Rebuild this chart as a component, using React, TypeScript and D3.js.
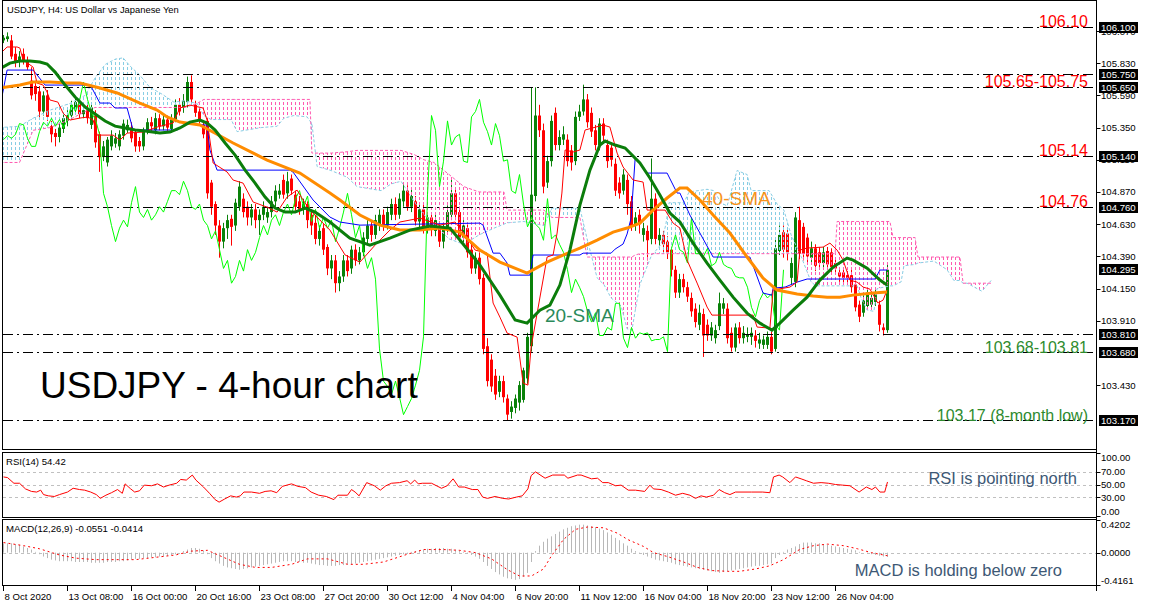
import * as d3 from "d3";

// one label every 16 four-hour bars
const timeLabels = [
  "8 Oct 2020", "13 Oct 08:00", "16 Oct 00:00", "20 Oct 16:00", "23 Oct 08:00",
  "27 Oct 20:00", "30 Oct 12:00", "4 Nov 04:00", "6 Nov 20:00", "11 Nov 12:00",
  "16 Nov 04:00", "18 Nov 20:00", "23 Nov 12:00", "26 Nov 04:00",
];

// [open, high, low, close]
const candles: [number, number, number, number][] = [
  [106.00,106.04,105.98,106.02],[106.01,106.06,105.99,106.03],[106.00,106.04,105.86,105.88],[105.90,105.95,105.80,105.84],
  [105.84,105.92,105.80,105.88],[105.90,105.94,105.82,105.85],[105.85,105.88,105.78,105.80],[105.70,105.80,105.56,105.59],
  [105.66,105.70,105.55,105.60],[105.62,105.66,105.42,105.47],[105.47,105.62,105.44,105.59],[105.59,105.63,105.40,105.43],
  [105.36,105.40,105.24,105.30],[105.31,105.34,105.21,105.28],[105.28,105.38,105.24,105.35],[105.34,105.46,105.31,105.42],
  [105.40,105.48,105.36,105.44],[105.44,105.55,105.41,105.52],[105.49,105.58,105.46,105.54],[105.54,105.57,105.42,105.45],
  [105.45,105.52,105.42,105.48],[105.48,105.52,105.38,105.42],[105.37,105.54,105.34,105.50],[105.44,105.48,105.20,105.24],
  [105.30,105.32,105.02,105.13],[105.13,105.25,105.10,105.21],[105.09,105.28,105.06,105.26],[105.21,105.33,105.18,105.29],
  [105.23,105.31,105.20,105.27],[105.21,105.33,105.18,105.30],[105.29,105.41,105.26,105.38],[105.33,105.41,105.31,105.37],
  [105.35,105.39,105.24,105.27],[105.31,105.33,105.17,105.21],[105.25,105.28,105.17,105.21],[105.21,105.35,105.18,105.32],
  [105.33,105.42,105.30,105.39],[105.39,105.43,105.32,105.36],[105.33,105.46,105.30,105.42],[105.42,105.45,105.33,105.36],
  [105.36,105.45,105.33,105.41],[105.41,105.44,105.31,105.35],[105.34,105.45,105.31,105.41],[105.41,105.56,105.39,105.52],
  [105.52,105.57,105.44,105.47],[105.50,105.60,105.46,105.55],[105.54,105.73,105.50,105.69],[105.69,105.74,105.53,105.56],
  [105.52,105.55,105.43,105.46],[105.47,105.50,105.38,105.41],[105.37,105.40,105.27,105.30],[105.40,105.42,104.82,104.86],
  [104.94,104.96,104.70,104.76],[104.78,104.80,104.55,104.62],[104.62,104.66,104.38,104.50],[104.50,104.64,104.45,104.60],
  [104.60,104.70,104.52,104.66],[104.67,104.70,104.47,104.61],[104.62,104.82,104.58,104.79],[104.76,104.95,104.73,104.91],
  [104.82,104.86,104.68,104.72],[104.76,104.80,104.62,104.68],[104.68,104.78,104.62,104.74],[104.74,104.78,104.60,104.66],
  [104.66,104.74,104.55,104.70],[104.70,104.80,104.66,104.76],[104.68,104.76,104.64,104.72],[104.72,104.84,104.68,104.80],
  [104.80,104.92,104.76,104.88],[104.85,104.93,104.82,104.88],[104.96,105.00,104.82,104.85],[104.86,105.02,104.82,104.95],
  [104.97,105.00,104.85,104.88],[104.85,104.88,104.73,104.76],[104.80,104.84,104.70,104.74],[104.74,104.82,104.70,104.78],
  [104.78,104.80,104.60,104.66],[104.70,104.74,104.55,104.62],[104.64,104.70,104.48,104.52],[104.52,104.62,104.47,104.58],
  [104.60,104.63,104.40,104.44],[104.46,104.48,104.25,104.30],[104.30,104.40,104.22,104.36],[104.36,104.40,104.12,104.19],
  [104.19,104.28,104.13,104.24],[104.24,104.40,104.20,104.36],[104.36,104.40,104.24,104.28],[104.30,104.47,104.26,104.44],
  [104.44,104.48,104.32,104.36],[104.36,104.46,104.33,104.42],[104.42,104.57,104.39,104.53],[104.52,104.66,104.48,104.62],
  [104.62,104.66,104.50,104.55],[104.55,104.70,104.52,104.66],[104.62,104.74,104.58,104.70],[104.70,104.74,104.58,104.62],
  [104.62,104.76,104.59,104.72],[104.70,104.82,104.66,104.78],[104.78,104.83,104.66,104.70],[104.70,104.86,104.67,104.82],
  [104.80,104.93,104.76,104.88],[104.88,104.92,104.73,104.76],[104.76,104.90,104.72,104.84],[104.80,104.84,104.62,104.65],
  [104.65,104.78,104.60,104.74],[104.74,104.78,104.56,104.60],[104.60,104.72,104.56,104.68],[104.68,104.72,104.54,104.60],
  [104.58,104.70,104.54,104.66],[104.62,104.65,104.46,104.50],[104.50,104.64,104.45,104.60],[104.60,104.77,104.56,104.72],
  [104.70,104.96,104.66,104.86],[104.86,104.90,104.66,104.70],[104.72,104.76,104.50,104.53],[104.53,104.66,104.48,104.62],
  [104.60,104.64,104.38,104.42],[104.44,104.48,104.26,104.30],[104.30,104.42,104.26,104.38],[104.38,104.42,104.18,104.22],
  [104.23,104.26,103.66,103.70],[103.72,103.78,103.42,103.46],[103.62,103.66,103.38,103.42],[103.50,103.55,103.32,103.36],
  [103.38,103.50,103.34,103.46],[103.46,103.50,103.30,103.34],[103.33,103.36,103.17,103.21],[103.23,103.31,103.18,103.27],
  [103.26,103.36,103.22,103.33],[103.30,103.46,103.24,103.43],[103.32,103.56,103.30,103.54],[103.48,103.82,103.44,103.79],
  [103.72,105.65,103.68,104.85],[104.84,105.65,104.80,105.44],[105.44,105.52,105.28,105.33],[105.33,105.38,104.86,104.91],
  [104.94,105.14,104.90,105.10],[105.10,105.44,105.06,105.40],[105.46,105.50,105.18,105.22],[105.22,105.33,105.18,105.28],
  [105.26,105.36,105.22,105.30],[105.26,105.30,105.06,105.10],[105.18,105.22,105.03,105.09],[105.10,105.47,105.07,105.43],
  [105.43,105.52,105.40,105.47],[105.47,105.67,105.44,105.56],[105.56,105.60,105.35,105.39],[105.46,105.50,105.28,105.32],
  [105.33,105.37,105.18,105.22],[105.22,105.42,105.18,105.38],[105.38,105.42,105.25,105.29],[105.22,105.26,105.05,105.10],
  [105.20,105.24,105.06,105.11],[105.08,105.12,104.84,104.88],[104.94,104.98,104.82,104.86],[104.88,105.04,104.85,105.00],
  [104.96,105.00,104.70,104.78],[104.80,104.84,104.58,104.61],[104.62,104.72,104.58,104.68],[104.70,104.74,104.56,104.63],
  [104.55,104.64,104.50,104.60],[104.58,104.62,104.36,104.51],[104.52,105.12,104.48,104.82],[104.82,104.86,104.48,104.52],
  [104.51,104.60,104.47,104.55],[104.55,104.58,104.42,104.48],[104.50,104.54,104.37,104.42],[104.44,104.46,104.24,104.29],
  [104.29,104.32,104.08,104.12],[104.12,104.26,104.08,104.22],[104.22,104.26,104.12,104.16],[104.16,104.20,104.05,104.09],
  [104.08,104.12,103.94,103.98],[104.00,104.04,103.86,103.90],[103.88,104.03,103.84,103.97],[103.96,104.00,103.64,103.80],
  [103.88,103.92,103.76,103.80],[103.80,103.90,103.76,103.86],[103.78,103.88,103.74,103.84],[103.87,104.12,103.84,104.04],
  [104.00,104.08,103.96,104.04],[104.00,104.04,103.74,103.78],[103.82,103.86,103.68,103.71],[103.71,103.89,103.68,103.86],
  [103.86,103.90,103.74,103.78],[103.78,103.87,103.74,103.82],[103.79,103.86,103.75,103.81],[103.79,103.86,103.73,103.82],
  [103.80,103.84,103.71,103.76],[103.74,103.82,103.70,103.77],[103.73,103.80,103.70,103.77],[103.73,103.83,103.70,103.79],
  [103.79,103.83,103.66,103.68],[103.70,104.52,103.68,104.45],[104.43,104.62,104.40,104.55],[104.57,104.62,104.38,104.44],
  [104.56,104.60,104.36,104.42],[104.23,104.38,104.18,104.34],[104.20,104.72,104.16,104.68],[104.66,104.76,104.37,104.41],
  [104.61,104.64,104.36,104.41],[104.53,104.56,104.33,104.39],[104.38,104.50,104.34,104.45],[104.45,104.48,104.28,104.32],
  [104.42,104.46,104.30,104.34],[104.34,104.46,104.30,104.42],[104.43,104.46,104.30,104.33],[104.42,104.45,104.27,104.31],
  [104.34,104.38,104.26,104.30],[104.27,104.30,104.20,104.24],[104.27,104.30,104.19,104.23],[104.25,104.28,104.19,104.23],
  [104.25,104.29,104.12,104.16],[104.18,104.21,103.98,104.01],[104.03,104.06,103.90,103.94],[103.97,104.10,103.94,104.06],
  [104.02,104.16,103.99,104.12],[104.03,104.12,104.00,104.08],[104.05,104.15,104.02,104.11],[104.03,104.06,103.83,103.88],
  [103.86,103.89,103.80,103.84],[103.84,104.33,103.82,104.29],
];

// [bar, value]
const sma20: [number, number][] = [
  [-1,105.787],[1.6,105.831],[4.1,105.846],[6.6,105.846],[9.1,105.839],[10.9,105.824],[12.9,105.764],[15.4,105.667],
  [17.9,105.578],[20.4,105.503],[22.9,105.451],[25.4,105.399],[27.9,105.361],[30.4,105.347],[32.9,105.332],[35.4,105.324],
  [39.1,105.309],[41.6,105.317],[44.1,105.347],[46.6,105.391],[49.1,105.406],[50.9,105.384],[52.9,105.332],[55.4,105.235],
  [57.9,105.145],[60.4,105.033],[62.9,104.936],[65.4,104.832],[67.9,104.75],[70.4,104.72],[72.9,104.72],[75.4,104.75],
  [77.9,104.72],[81.6,104.646],[86.6,104.526],[91.6,104.474],[96.6,104.526],[101.6,104.586],[106.6,104.616],[111.6,104.601],
  [114.1,104.512],[119.1,104.325],[124.1,104.101],[127.9,103.915],[130.9,103.892],[134.1,103.989],[136.6,104.027],
  [139.1,104.176],[141.6,104.437],[144.1,104.772],[146.6,105.033],[149.1,105.22],[150.4,105.25],[152.9,105.22],
  [155.4,105.198],[159.1,105.086],[161.6,104.974],[164.1,104.847],[166.6,104.713],[169.1,104.646],[172.4,104.489],
  [175.9,104.34],[179.1,104.213],[182.4,104.086],[185.9,103.967],[189.1,103.892],[192.1,103.84],[194.1,103.892],
  [197.4,103.989],[200.9,104.086],[204.1,104.213],[207.4,104.31],[210.9,104.377],[212.4,104.362],[215.9,104.302],
  [219.1,104.213],[220.9,104.176],
];

const sma40: [number, number][] = [
  [-1,105.645],[4.1,105.667],[7.4,105.69],[11.6,105.69],[15.9,105.682],[19.1,105.682],[24.1,105.645],[28.4,105.608],
  [34.1,105.533],[38.4,105.481],[40.9,105.429],[44.1,105.391],[49.1,105.369],[57.4,105.235],[65.9,105.108],[74.1,105.011],
  [81.6,104.862],[84.1,104.81],[89.1,104.698],[94.1,104.623],[99.1,104.586],[104.1,104.586],[109.1,104.601],[114.1,104.571],
  [119.1,104.437],[124.1,104.347],[130.9,104.265],[135.9,104.347],[139.9,104.4],[144.1,104.452],[148.4,104.511],
  [152.4,104.571],[155.9,104.601],[159.1,104.638],[162.4,104.735],[165.9,104.825],[169.1,104.899],[170.9,104.899],
  [174.1,104.81],[177.4,104.698],[181.6,104.564],[185.9,104.385],[189.9,104.228],[193.4,104.139],[198.4,104.109],
  [202.4,104.094],[205.9,104.086],[209.1,104.086],[212.4,104.101],[217.4,104.116],[220.9,104.124],
];

const tenkan: [number, number][] = [
  [-0.4,105.913],[0.9,105.951],[3.4,105.951],[4.1,105.943],[4.9,105.854],[7.4,105.801],[8.4,105.682],[9.9,105.667],
  [10.9,105.615],[11.6,105.556],[13.6,105.54],[14.9,105.458],[16.6,105.406],[19.1,105.421],[21.1,105.429],[22.4,105.406],
  [23.4,105.294],[27.4,105.294],[29.1,105.257],[30.9,105.309],[34.9,105.317],[38.4,105.354],[42.4,105.384],[44.1,105.496],
  [46.6,105.518],[49.9,105.496],[50.9,105.406],[52.4,105.086],[55.9,105.019],[57.4,104.959],[59.9,104.936],[62.4,104.795],
  [65.9,104.757],[68.4,104.72],[70.9,104.832],[73.4,104.884],[74.9,104.81],[76.6,104.735],[79.1,104.661],[81.6,104.586],
  [85.4,104.4],[89.1,104.347],[92.9,104.474],[96.6,104.586],[99.1,104.646],[104.1,104.675],[109.1,104.623],[112.9,104.646],
  [115.4,104.549],[117.9,104.437],[120.9,104.414],[122.4,104.042],[124.1,103.937],[125.9,103.818],[128.4,103.788],
  [129.9,103.445],[131.1,103.43],[131.9,103.713],[135.9,104.385],[137.4,104.4],[138.4,104.564],[139.6,104.862],
  [140.4,105.183],[142.4,105.168],[144.1,105.183],[145.4,105.332],[149.9,105.369],[151.6,105.354],[153.4,105.16],
  [154.9,105.056],[157.4,104.959],[159.9,104.944],[160.9,104.735],[165.4,104.735],[167.4,104.638],[169.1,104.601],
  [170.9,104.362],[173.4,104.191],[175.9,104.012],[177.1,103.952],[187.4,103.952],[188.4,103.863],[191.6,103.855],
  [192.4,104.139],[196.6,104.161],[198.4,104.198],[199.1,104.437],[200.9,104.452],[204.9,104.459],[206.6,104.489],
  [208.4,104.437],[209.9,104.362],[211.6,104.213],[213.4,104.198],[214.9,104.161],[216.6,104.146],[218.6,104.042],
  [219.9,104.064],[220.9,104.139],
];

const kijun: [number, number][] = [
  [-0.4,105.578],[0.9,105.779],[7.4,105.779],[8.4,105.742],[10.4,105.667],[21.6,105.667],[22.1,105.645],[24.1,105.533],
  [26.6,105.533],[27.9,105.496],[30.9,105.496],[32.4,105.332],[43.4,105.332],[45.4,105.376],[50.9,105.369],[51.6,105.183],
  [53.4,105.033],[71.6,105.033],[72.4,105.018],[77.4,104.81],[81.6,104.683],[84.1,104.646],[89.1,104.623],[119.1,104.638],
  [119.9,104.623],[122.4,104.414],[124.1,104.414],[125.9,104.34],[126.6,104.25],[131.6,104.25],[132.4,104.4],[144.1,104.4],
  [144.9,104.414],[151.9,104.414],[152.9,104.444],[154.9,104.482],[155.9,104.557],[156.9,104.676],[157.9,105.115],
  [159.1,105.086],[160.9,105.011],[165.9,105.011],[168.4,104.862],[169.1,104.862],[171.6,104.698],[174.1,104.564],
  [177.4,104.385],[186.6,104.385],[189.9,104.116],[192.1,104.101],[192.4,104.153],[195.4,104.161],[198.4,104.198],
  [200.9,104.221],[217.9,104.221],[219.1,104.288],[220.9,104.288],
];

// [bar, senkou span A, senkou span B]
const kumo: [number, number, number][] = [
  [-1,105.35,105.09],[4,105.36,105.09],[7.4,105.42,105.33],[11.6,105.48,105.35],[16.6,105.53,105.41],[20.4,105.59,105.47],
  [22.9,105.72,105.5],[25.4,105.82,105.5],[27.9,105.86,105.5],[29.9,105.87,105.5],[31.6,105.81,105.5],[34.1,105.74,105.5],
  [36.6,105.65,105.5],[39.6,105.6,105.5],[42.6,105.54,105.5],[45.4,105.55,105.5],[48.4,105.53,105.53],[50.1,105.44,105.56],
  [51.9,105.41,105.56],[56.9,105.41,105.56],[58.4,105.32,105.56],[64.4,105.35,105.56],[68.4,105.36,105.56],
  [70.1,105.42,105.56],[72.6,105.44,105.56],[75.9,105.43,105.56],[76.6,105.4,105.56],[77.1,105.38,105.16],
  [78.4,105.06,105.16],[81.9,105.03,105.16],[85.9,104.98,105.17],[88.4,104.91,105.18],[94.4,104.88,105.18],
  [96.9,104.93,105.18],[99.4,104.95,105.18],[102.6,104.8,105.15],[105.1,104.7,105.11],[107.6,104.63,105.09],
  [111.4,104.52,105.0],[115.1,104.48,104.91],[118.9,104.55,104.87],[122.6,104.6,104.87],[125.1,104.63,104.87],
  [125.9,104.64,104.735],[130.1,104.65,104.735],[135.1,104.62,104.735],[137.1,104.75,104.68],[144.1,104.75,104.68],
  [145.9,104.52,104.385],[148.4,104.23,104.385],[150.1,104.18,104.385],[151.9,104.08,104.385],[154.4,104.02,104.385],
  [155.9,103.85,104.385],[157.1,103.84,104.385],[157.9,103.98,104.4],[159.1,104.18,104.41],[161.9,104.39,104.41],
  [164.4,104.48,104.41],[165.6,104.63,104.41],[166.4,104.79,104.41],[170.1,104.79,104.41],[171.4,104.87,104.41],
  [175.9,104.89,104.41],[177.6,104.88,104.41],[179.4,104.79,104.41],[180.9,104.765,104.41],[183.4,105.03,104.41],
  [185.9,105.0,104.41],[186.9,104.88,104.41],[191.4,104.88,104.41],[193.4,104.78,104.41],[195.1,104.735,104.41],
  [196.9,104.55,104.41],[199.4,104.39,104.41],[201.9,104.2,104.41],[203.1,104.17,104.41],[207.9,104.17,104.41],
  [208.4,104.17,104.65],[213.4,104.17,104.65],[214.4,104.08,104.65],[215.9,103.99,104.65],[217.6,103.98,104.65],
  [218.4,104.15,104.65],[221.6,104.17,104.65],[222.4,104.17,104.53],[224.4,104.2,104.53],[225.1,104.32,104.53],
  [227.9,104.33,104.53],[228.6,104.34,104.385],[232.6,104.355,104.385],[235.9,104.29,104.385],[237.6,104.21,104.385],
  [239.1,104.21,104.385],[239.9,104.19,104.19],[240.9,104.19,104.19],[244.6,104.13,104.19],[246.9,104.21,104.19],
];

const rsi: [number, number][] = [
  [0,62],[1,61],[2.6,52],[4,52],[5.5,43],[7,39],[8.3,38],[9.3,41],[10,34],[11.2,32],[12.7,31],[14,34],[16,38],[17.4,44],
  [19,42],[20.3,41],[21.8,38],[23.2,34],[24.2,28],[25.6,33],[27,37],[28.5,42],[29.7,36],[30.4,51],[31.8,43],[32.8,38],
  [34,40],[35.2,49],[37,48],[38.5,51],[40,46],[41.4,49],[43.3,52],[44.3,58],[45.7,57],[47.2,65],[48.1,57],[50,46],
  [51.5,36],[52.9,26],[53.9,22],[55.3,27],[56.8,32],[58.2,30],[59.2,32],[60.1,38],[62,38],[64,36],[65.4,39],[66.9,40],
  [68.3,37],[69.7,47],[72,51],[73.6,47],[75.5,45],[76.9,38],[78.8,33],[80.7,31],[82.6,26],[83.6,33],[86,33],[87,42],
  [87.9,38],[88.9,32],[90.8,53],[92.7,48],[94.2,41],[95.6,48],[97,52],[99,53],[100.9,56],[101.8,51],[102.8,57],
  [103.7,51],[104.7,52],[107,52],[109.5,44],[110.9,48],[112.4,59],[113.8,46],[115.2,46],[117.2,42],[118.6,42],
  [119.8,30],[121,28],[122.9,31],[124.8,28],[126.3,27],[128.2,30],[129.7,32],[131.1,43],[131.9,64],[133,70],
  [135.4,60],[137.3,65],[140.2,65],[141.1,60],[143.5,65],[144.4,65],[147,59],[148.5,60],[149.8,53],[151.2,53],
  [153,48],[154.4,49],[156.2,41],[158,41],[160.3,39],[161.6,49],[162.5,43],[164.4,42],[166.2,38],[168,33],[169.8,36],
  [171.6,33],[173,28],[174.4,32],[175.7,30],[177.5,33],[178.9,42],[180.3,37],[181.6,34],[183,38],[187,38],[189.8,38],
  [191.6,37],[192.5,62],[193.9,65],[194.8,62],[196.6,53],[198,62],[199.4,59],[200.7,56],[202.5,52],[204.4,53],
  [206.2,52],[208,50],[209.8,49],[211.6,48],[213.9,38],[215.7,46],[217.1,42],[218,46],[219.1,38],[220.3,38],[221,54],
];

// MACD main line, one value per bar (drawn as histogram)
const macdMain = [
  0.12,0.12,0.12,0.11,0.10,0.08,0.06,0.04,0.01,-0.02,
  -0.05,-0.07,-0.09,-0.10,-0.11,-0.11,-0.11,-0.11,-0.12,-0.12,
  -0.12,-0.12,-0.13,-0.13,-0.13,-0.13,-0.12,-0.12,-0.12,-0.11,
  -0.11,-0.10,-0.09,-0.08,-0.08,-0.07,-0.07,-0.06,-0.06,-0.05,
  -0.05,-0.04,-0.03,-0.02,0.00,0.02,0.04,0.06,0.06,0.05,
  0.03,-0.02,-0.07,-0.11,-0.14,-0.17,-0.19,-0.20,-0.21,-0.22,
  -0.21,-0.20,-0.19,-0.18,-0.17,-0.16,-0.15,-0.14,-0.13,-0.12,
  -0.11,-0.11,-0.11,-0.12,-0.12,-0.13,-0.13,-0.14,-0.15,-0.16,
  -0.16,-0.17,-0.17,-0.17,-0.16,-0.16,-0.15,-0.15,-0.14,-0.13,
  -0.12,-0.11,-0.10,-0.09,-0.08,-0.07,-0.06,-0.05,-0.04,-0.03,
  -0.02,-0.01,0.01,0.02,0.03,0.04,0.05,0.05,0.06,0.06,
  0.06,0.05,0.05,0.04,0.03,0.01,-0.01,-0.03,-0.05,-0.08,
  -0.12,-0.17,-0.21,-0.25,-0.28,-0.31,-0.33,-0.34,-0.35,-0.34,
  -0.31,-0.26,-0.12,0.02,0.09,0.14,0.18,0.21,0.24,0.27,
  0.30,0.32,0.34,0.35,0.36,0.36,0.35,0.34,0.33,0.31,
  0.29,0.26,0.23,0.19,0.16,0.12,0.09,0.05,0.02,-0.01,
  -0.03,-0.05,-0.07,-0.09,-0.10,-0.11,-0.12,-0.13,-0.15,-0.16,
  -0.17,-0.18,-0.19,-0.20,-0.21,-0.22,-0.23,-0.24,-0.25,-0.26,
  -0.25,-0.24,-0.23,-0.22,-0.21,-0.20,-0.19,-0.18,-0.17,-0.17,
  -0.16,-0.15,-0.14,-0.07,-0.03,0.01,0.04,0.06,0.08,0.11,
  0.13,0.13,0.13,0.12,0.12,0.11,0.10,0.09,0.08,0.07,
  0.06,0.05,0.04,0.03,0.01,0.00,-0.01,-0.02,-0.03,-0.04,
  -0.05,-0.055,
];

const macdSignal: [number, number][] = [
  [0,0.13],[5,0.09],[9,0.05],[14,-0.03],[18,-0.07],[23,-0.09],[28,-0.09],[33,-0.09],[38,-0.06],[43,-0.03],[47,0.02],
  [51,0.03],[55,-0.06],[59,-0.15],[63,-0.19],[67,-0.19],[72,-0.15],[76,-0.08],[81,-0.08],[86,-0.15],[90,-0.15],
  [95,-0.12],[101,-0.02],[105,0.04],[110,0.04],[114,0.03],[118,0.0],[122,-0.08],[126,-0.22],[129,-0.30],[132,-0.30],
  [135,-0.21],[137,-0.04],[140,0.17],[143,0.30],[146,0.33],[150,0.32],[153.5,0.25],[156,0.17],[160,0.08],[162.5,0],
  [166,-0.05],[170,-0.12],[173.5,-0.19],[177,-0.23],[181,-0.24],[184,-0.24],[188,-0.21],[191.5,-0.17],[195,-0.09],
  [199,0.04],[202.5,0.09],[206,0.11],[210,0.09],[213.5,0.05],[217,0.0],[221,-0.04],
];

const priceTicks = [106.07, 105.83, 105.59, 105.35, 105.11, 104.87, 104.63, 104.39, 104.15, 103.91, 103.43];
const levelLines = [106.10, 105.75, 105.65, 105.14, 104.76, 103.81, 103.68, 103.17];
const priceBoxes = [106.10, 105.75, 105.65, 105.14, 104.76, 104.295, 103.81, 103.68, 103.17];
const resistanceNotes: [string, number][] = [["106.10", 106.10], ["105.65-105.75", 105.65], ["105.14", 105.14], ["104.76", 104.76]];
const supportNotes: [string, number][] = [["103.68-103.81", 103.68], ["103.17 (8-month low)", 103.17]];
const rsiTicks = [100, 70, 50, 30, 0];
const macdTicks = [0.4202, 0, -0.4161];

const FONT = "'Liberation Sans', Arial, sans-serif";
const BULL = "#0a820a";
const BEAR = "#ff0000";
const PINK = "#ff5ab0";
const SKY = "#88cde4";
const R = 1096.5;

export default function App() {
  const x = d3.scaleLinear().domain([0, 1]).range([3.5, 7.5]);
  const y = d3.scaleLinear().domain([103.17, 106.1]).range([420, 27]);
  const yR = d3.scaleLinear().domain([0, 100]).range([516, 453]);
  const yM = d3.scaleLinear().domain([-0.4161, 0.4202]).range([585, 520]);

  const priceLine = d3.line<[number, number]>().x((d) => x(d[0])).y((d) => y(d[1]));
  const rsiLine = d3.line<[number, number]>().x((d) => x(d[0])).y((d) => yR(d[1]));
  const sigLine = d3.line<[number, number]>().x((d) => x(d[0])).y((d) => yM(d[1]));

  const closes = candles.map((c) => c[3]);
  const chikou: [number, number][] = closes.slice(26).map((c, j) => [j, c]);

  const cloud = d3.area<[number, number, number]>().x((d) => x(d[0])).y0((d) => y(d[1])).y1((d) => y(d[2]));
  const aboveB = d3.area<[number, number, number]>().x((d) => x(d[0])).y0(0).y1((d) => y(d[2]));
  const belowB = d3.area<[number, number, number]>().x((d) => x(d[0])).y0((d) => y(d[2])).y1(460);
  const spanA = d3.line<[number, number, number]>().x((d) => x(d[0])).y((d) => y(d[1]));
  const spanB = d3.line<[number, number, number]>().x((d) => x(d[0])).y((d) => y(d[2]));

  // kumo is hatched with one dotted vertical stroke per bar, clipped to the cloud shape
  const hatchBars = d3.range(-1, 248);
  const crisp = (v: number) => Math.round(v) + 0.5;

  return (
    <svg width={1149} height={607} style={{ position: "absolute", left: 0, top: 0, background: "#fff" }}>
      <defs>
        <clipPath id="mainClip"><rect x={3} y={2} width={1093} height={447} /></clipPath>
        <clipPath id="rsiClip"><rect x={3} y={453} width={1093} height={64} /></clipPath>
        <clipPath id="macdClip"><rect x={3} y={520} width={1093} height={65} /></clipPath>
        <clipPath id="kumoClip"><path d={cloud(kumo) ?? ""} /></clipPath>
        <clipPath id="aboveB"><path d={aboveB(kumo) ?? ""} /></clipPath>
        <clipPath id="belowB"><path d={belowB(kumo) ?? ""} /></clipPath>
      </defs>
      <rect width={1149} height={607} fill="#fff" />

      {/* main window */}
      <g clipPath="url(#mainClip)">
        {candles.map((c, i) => {
          const [o, h, l, cl] = c;
          const col = cl >= o ? BULL : BEAR;
          const cx = x(i);
          const top = y(Math.max(o, cl));
          const bot = y(Math.min(o, cl));
          return (
            <g key={i}>
              <line x1={cx} x2={cx} y1={y(h)} y2={y(l)} stroke={col} />
              <rect x={cx - 1.5} y={top} width={3} height={Math.max(1, bot - top)} fill={col} />
            </g>
          );
        })}

        <g clipPath="url(#aboveB)">
          <g clipPath="url(#kumoClip)">
            {hatchBars.map((b) => (
              <line key={b} x1={x(b)} x2={x(b)} y1={2} y2={449} stroke={SKY} strokeDasharray="3,2" />
            ))}
          </g>
        </g>
        <g clipPath="url(#belowB)">
          <g clipPath="url(#kumoClip)">
            {hatchBars.map((b) => (
              <line key={b} x1={x(b)} x2={x(b)} y1={2} y2={449} stroke={PINK} strokeDasharray="3,2" />
            ))}
          </g>
        </g>
        <path d={spanA(kumo) ?? ""} fill="none" stroke={SKY} strokeDasharray="3,2" />
        <path d={spanB(kumo) ?? ""} fill="none" stroke={PINK} strokeDasharray="3,2" />

        {levelLines.map((p) => (
          <line key={p} x1={3} x2={1093} y1={crisp(y(p))} y2={crisp(y(p))} stroke="#000" strokeDasharray="10,4,2,4" />
        ))}

        <path d={priceLine(chikou) ?? ""} fill="none" stroke="#00ff00" strokeWidth={1} />
        <path d={priceLine(kijun) ?? ""} fill="none" stroke="#0000ff" strokeWidth={1} />
        <path d={priceLine(tenkan) ?? ""} fill="none" stroke="#ff0000" strokeWidth={1} />
        <path d={priceLine(sma40) ?? ""} fill="none" stroke="#ff8c00" strokeWidth={3} />
        <path d={priceLine(sma20) ?? ""} fill="none" stroke="#0b7d0b" strokeWidth={3} />

        <text x={7} y={13} fontFamily={FONT} fontSize={9.4} fill="#000">USDJPY, H4:  US Dollar vs Japanese Yen</text>
        <text x={40} y={398} fontFamily={FONT} fontSize={37} fill="#000">USDJPY - 4-hour chart</text>
        <text x={702} y={205} fontFamily={FONT} fontSize={19} fill="#f7941d">40-SMA</text>
        <text x={545} y={322} fontFamily={FONT} fontSize={19} fill="#2a8a5a">20-SMA</text>
        {resistanceNotes.map(([t, p]) => (
          <text key={t} x={1088} y={y(p)} textAnchor="end" fontFamily={FONT} fontSize={16} fill="#ff0000">{t}</text>
        ))}
        {supportNotes.map(([t, p]) => (
          <text key={t} x={1088} y={y(p) + 1} textAnchor="end" fontFamily={FONT} fontSize={16} fill="#2e8b2e">{t}</text>
        ))}
      </g>

      {/* RSI window */}
      <g clipPath="url(#rsiClip)">
        {[70, 50, 30].map((v) => (
          <line key={v} x1={3} x2={R} y1={crisp(yR(v))} y2={crisp(yR(v))} stroke="#c0c0c0" strokeDasharray="3,3" />
        ))}
        <path d={rsiLine(rsi) ?? ""} fill="none" stroke="#ff0000" />
        <text x={6} y={465} fontFamily={FONT} fontSize={9.6} fill="#000">RSI(14) 54.42</text>
        <text x={1077} y={484} textAnchor="end" fontFamily={FONT} fontSize={16.5} fill="#3d5875">RSI is pointing north</text>
      </g>

      {/* MACD window */}
      <g clipPath="url(#macdClip)">
        <line x1={3} x2={R} y1={crisp(yM(0))} y2={crisp(yM(0))} stroke="#c0c0c0" strokeDasharray="3,3" />
        {macdMain.map((v, i) => (
          <line key={i} x1={x(i)} x2={x(i)} y1={yM(0)} y2={yM(v)} stroke="#b8b8b8" />
        ))}
        <path d={sigLine(macdSignal) ?? ""} fill="none" stroke="#ff0000" strokeDasharray="2,3" />
        <text x={6} y={532} fontFamily={FONT} fontSize={9.6} fill="#000">MACD(12,26,9) -0.0551 -0.0414</text>
        <text x={1062} y={576} textAnchor="end" fontFamily={FONT} fontSize={16.5} fill="#3d5875">MACD is holding below zero</text>
      </g>

      {/* frames */}
      <rect x={2.5} y={0.5} width={R - 2.5} height={449} fill="none" stroke="#000" />
      <rect x={2.5} y={452.5} width={R - 2.5} height={65} fill="none" stroke="#000" />
      <rect x={2.5} y={519.5} width={R - 2.5} height={66} fill="none" stroke="#000" />
      <line x1={R} x2={R} y1={0} y2={591} stroke="#000" />

      {/* price axis */}
      {priceTicks.map((p) => (
        <g key={p}>
          <line x1={R} x2={R + 4} y1={crisp(y(p))} y2={crisp(y(p))} stroke="#000" />
          <text x={1101} y={y(p) + 3.5} fontFamily={FONT} fontSize={9.6} fill="#000">{p.toFixed(3)}</text>
        </g>
      ))}
      {priceBoxes.map((p) => (
        <g key={p}>
          <rect x={1099} y={Math.round(y(p)) - 5} width={39} height={11} fill="#000" />
          <text x={1101} y={Math.round(y(p)) + 4} fontFamily={FONT} fontSize={9.6} fill="#fff">{p.toFixed(3)}</text>
        </g>
      ))}

      {/* RSI axis */}
      {rsiTicks.map((v) => {
        const ty = yR(v);
        const ly = v === 100 ? ty + 7.5 : v === 0 ? ty - 1.5 : ty + 3.5;
        return (
          <g key={v}>
            <line x1={R} x2={R + 4} y1={crisp(ty)} y2={crisp(ty)} stroke="#000" />
            <text x={1101} y={ly} fontFamily={FONT} fontSize={9.6} fill="#000">{v.toFixed(2)}</text>
          </g>
        );
      })}

      {/* MACD axis */}
      {macdTicks.map((v) => {
        const ty = yM(v);
        const ly = v > 0.1 ? ty + 7.5 : v < -0.1 ? ty - 1.5 : ty + 3.5;
        return (
          <g key={v}>
            <line x1={R} x2={R + 4} y1={crisp(ty)} y2={crisp(ty)} stroke="#000" />
            <text x={1101} y={ly} fontFamily={FONT} fontSize={9.6} fill="#000">{v.toFixed(4)}</text>
          </g>
        );
      })}

      {/* time axis */}
      {timeLabels.map((t, k) => {
        const tx = x(k * 16);
        return (
          <g key={t}>
            <line x1={tx} x2={tx} y1={586} y2={591} stroke="#000" />
            <text x={tx + 1} y={600} fontFamily={FONT} fontSize={9.6} fill="#000">{t}</text>
          </g>
        );
      })}
    </svg>
  );
}
